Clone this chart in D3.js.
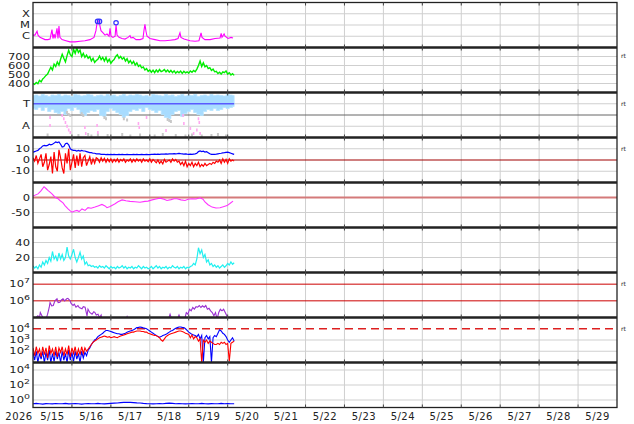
<!DOCTYPE html>
<html><head><meta charset="utf-8">
<script src="https://cdn.jsdelivr.net/npm/d3@7"></script>
<style>
body{margin:0;background:#fff}
svg{display:block}
text{font-family:"DejaVu Sans",sans-serif;fill:#222}
</style>
</head><body>
<svg id="chart" width="634" height="424"></svg>
<script>
// ---------------- DATA ----------------
const yearLabel = "2026";
const dayLabels = ["5/15","5/16","5/17","5/18","5/19","5/20","5/21","5/22","5/23","5/24","5/25","5/26","5/27","5/28","5/29"];

// X-ray flux (log10 W/m2), irregular times in hours after 5/15 00:00
const xrayHours = [0,1.2,2.5,3.1,4.3,7.4,9.2,10.5,11.7,12.3,13,13.6,14.8,15.4,16,16.6,17.9,20.3,22.8,25.9,29,32,35.1,37.6,38.8,39.5,40.1,40.7,41.3,41.9,43.2,44.4,45.6,46.9,47.5,48.1,49.3,50.6,51.2,51.8,53,54.9,56.7,58.6,59.8,60.4,61.7,63.5,66,67.8,68.4,69,69.7,70.3,72.1,75.2,78.3,81.4,84.5,87.5,89.4,90.6,91.2,93.1,96.8,99.9,102.3,103.6,104.2,106,109.1,112.2,115.3,116,116.5,117.8,118.4,120.2,122.1,123.3];
const xrayLog = [-5.9,-5.9,-5.55,-5.9,-6.1,-6.3,-6.3,-6.25,-5.4,-6.2,-5.8,-6.2,-5.3,-6.2,-5.1,-6.1,-6.3,-6.4,-6.5,-6.5,-6.45,-6.4,-6.3,-6.1,-5.5,-4.8,-4.65,-4.7,-5.1,-5.5,-5.7,-5.9,-5.8,-6.0,-5.3,-6.0,-6.1,-6.0,-4.95,-5.9,-6.1,-6.2,-6.25,-6.1,-5.95,-6.15,-6.1,-6.3,-6.3,-6.2,-5.5,-4.95,-5.6,-6.0,-6.2,-6.3,-6.4,-6.4,-6.35,-6.3,-6.2,-5.7,-6.1,-6.25,-6.4,-6.45,-6.4,-5.7,-6.1,-6.3,-6.3,-6.2,-6.15,-5.75,-6.1,-5.8,-6.0,-6.2,-6.1,-6.15];
const xrayTickLabels = ["X","M","C"];
const xrayTickLogs = [-4,-5,-6];
const flareHours = [39.8,41.0,51.2];
const flareLogs = [-4.68,-4.68,-4.8];

// Solar wind speed (km/s), hourly
const speed = [400,390,412,398,435,418,450,468,490,505,
 545,580,550,615,590,640,605,670,725,680,
 640,710,770,720,700,780,735,795,745,770,
 700,735,690,715,680,700,650,680,635,655,
 670,705,665,690,650,690,640,670,625,650,
 665,700,720,680,700,670,690,650,675,630,
 655,620,645,605,630,590,605,575,585,550,
 565,535,550,525,548,520,550,528,555,532,
 540,555,530,550,525,545,520,540,515,535,
 520,538,512,535,518,530,515,540,525,545,
 530,560,600,650,590,630,585,600,565,575,
 545,560,530,535,510,525,505,530,520,540,
 505,520,495,510,490];
const speedTicks = [400,500,600,700];

// IMF sector angle (deg), 2-hourly band limits; T = 270, A = 90
const phiTop = [336,340,332,344,336,328,340,336,344,332,
 340,336,328,344,340,332,336,344,340,328,
 336,340,332,344,336,340,328,336,344,332,
 340,336,344,340,332,336,328,344,340,336,
 332,344,336,340,328,336,344,332,340,336,
 344,328,336,340,332,344,336,340,336,332,
 344,340,336];
const phiBottom = [232,224,240,216,240,208,224,200,192,208,
 184,232,216,240,224,192,176,200,216,208,
 224,176,168,208,232,216,200,184,160,176,
 208,224,216,232,208,240,224,216,200,216,
 184,160,152,184,208,216,168,192,208,224,
 200,184,176,208,224,216,232,216,224,240,
 232,240,248];
const awayHours = [10.5,10.5,18,19,20,21,22,23,32,32.5,39.5,40,65,65.5,70,82,92.5,93,97,99,101,103,102,102.5];
const awayPhi  = [160,96,176,150,120,90,60,40,80,32,96,40,112,80,160,56,176,112,72,32,60,32,150,120];
const grayHours = [21,22,23,30,31,44,45,56,58,83,84,85,9,28,34,36,40,46,55,60,66,75,80,88,94,98,104,110,114,119];
const grayPhi   = [200,184,176,190,176,160,150,150,140,144,136,128,20,16,24,12,20,16,24,12,20,12,24,16,12,20,12,16,24,12];

// IMF Bt and Bz (nT), hourly
const bt = [7,7.5,8,8.5,10,11,12.5,13,12.5,13,
 14,13.5,14,15,16,15.5,16,14,11.5,12,
 14.5,15,13.5,10,9,8.5,8.5,8,8.5,8,
 8.5,8,8,7.5,7,6.5,6.5,6,6,5.5,
 5.5,5.5,5,5,5,4.8,5,4.8,5,4.8,
 5,4.8,4.8,5,4.8,5,4.8,4.8,5,4.8,
 4.8,4.8,5,4.8,5,4.8,4.8,5,4.8,4.8,
 5,4.8,4.8,5,5,5.2,5,5.2,5,5.2,
 5.3,5.2,5.5,5.3,5.5,5.4,5.5,5.6,5.5,5.6,
 5.8,5.6,5.5,5.3,5.5,5.2,5,5.2,5,5.3,
 5.5,6,7.5,8,7.5,7.8,7,7.5,6.5,5.5,
 5,5,5,5.2,5.5,5.8,6,6.3,6.5,6.8,
 7,6.5,6,5.5,5];
const bz = [2,-1,4,-3,1,5,-6,-2,6,-9,
 -4,3,-12,7,-6,-10,9,2,-7,-12,
 6,-3,10,-9,-2,5,-7,4,-5,6,
 -6,2,4,-5,-1,3,-4,1,-3,2,
 1,-2,2,-1,1.5,-2,1,-1.5,1,-2,
 0.5,-1.5,1,-2,0.5,-1,1,-2,0,-1,
 1,-2,0.5,-1.5,1,-1,0.5,-2,1,-1,
 0,-1.5,1,-2,0.5,-1,-2.5,0,-3,-1,
 -3.5,0.5,-2,-1,0,-2,1,-1,0.5,-2,
 -1,-4,-2,-5,-1,-6,-3,-5,-2,-6,
 -3,-5,-2,-6,-4,-5.5,-3,-5,-4,-3,
 -4,-2,-3,-1,-2,0,-3,1,-2,0.5,
 -3,1,-1,0,-1];
const bTicks = [10,0,-10];

// Dst (nT)
const dstHours = [0,3.1,4.9,6.8,8,9.2,10.5,11.7,13.6,15.4,16.6,18.5,19.7,21.6,22.8,24,25.3,27.1,28.4,30.2,32.1,33.9,35.8,38.2,40.1,42.5,44.4,45.6,47.5,50.6,52.4,54.9,57.3,59.8,62.9,66,69,70.9,73.4,75.8,78.3,80.8,82.6,85.1,86.9,88.8,91.2,93.7,95.6,98,100.5,103,104.8,106,107.9,110.4,112.8,115.3,117.8,119.6,121.4,123.3];
const dst = [5,12,22,36,30,24,18,12,1,-4,-10,-18,-27,-38,-44,-49,-46,-43,-47,-38,-43,-34,-36,-32,-28,-23,-28,-34,-30,-21,-14,-8,-11,-13,-14,-16,-13,-12,-8,-5,-2,-6,-10,-7,-4,-4.4,-8,-10,-6,-4,-5,-1,-6,-15,-24,-32,-35,-34,-30,-27,-20,-12];
const dstTicks = [0,-50];

// Solar wind density (p/cc), hourly
const density = [9,6,8,5,10,7,14,10,16,12,
 20,15,28,18,22,15,26,18,24,16,
 20,34,22,18,24,31,20,14,20,27,
 18,22,11,14,9,10,8,9,7,8,
 6,9,7,8,6,9,7,5,8,6,
 7,5,8,6,7,9,6,8,5,7,
 6,8,5,7,6,9,7,5,8,6,
 7,5,6,8,5,7,9,6,8,5,
 7,6,8,5,7,6,9,7,6,8,
 5,7,6,8,5,7,6,8,9,12,
 10,18,33,25,30,20,24,14,17,10,
 12,8,10,7,9,6,8,10,7,9,
 12,10,14,11,13];
const densityTicks = [40,20];

// Electron fluence (log10)
const elecHours = [0,2,3,4,4.5,5.5,6.5,8,9,10,10.5,11.5,12.5,13.5,14.8,15.5,16.6,17.5,18.5,19.5,20.8,21.5,22.8,23.5,24.7,25.5,26.5,27.7,28.5,30.2,31,32.1,33.3,33.9,35,36.4,37.5,38.2,39,40.1,41,42,42.5,
 null,57.5,58,58.5,null,83.5,84.5,85.5,null,89,90,91,null,93.5,94.5,95.5,96.5,97.5,98.5,99.5,100.5,101.5,102.5,103.5,104.5,105.5,106.5,107.5,108.5,109.5,110.5,111.5,112.5,113.5,114.5,115.5,116.5,117.5,118.5,119.5,120.5];
const elecLog = [4.9,5.0,5.1,5.0,5.3,5.1,4.9,4.9,5.2,5.6,5.9,5.7,5.72,6.0,6.12,5.9,5.92,6.05,6.12,6.0,6.12,6.15,6.02,5.85,5.72,5.8,5.62,5.72,5.6,5.52,5.65,5.62,5.1,5.5,5.3,5.2,5.35,5.3,5.15,5.2,5.0,5.15,4.8,
 null,4.9,5.05,4.9,null,4.9,5.2,4.9,null,4.9,5.15,4.9,null,4.9,5.3,5.2,5.5,5.4,5.6,5.5,5.65,5.62,5.72,5.6,5.7,5.62,5.72,5.5,5.55,5.4,5.3,5.1,5.3,4.9,5.3,5.5,5.4,5.5,5.3,5.1,4.9];
const elecTicks = [7,6];

// Particle flux (log10), hourly: blue and red channels
const fluxBlue = [1.9,1.2,2.0,1.0,1.8,1.3,2.0,1.0,1.9,1.2,
 2.1,1.0,1.8,1.1,2.0,1.3,1.9,1.0,2.0,1.2,
 1.8,1.0,2.1,1.2,1.9,1.1,2.0,1.3,1.8,1.0,
 2.0,1.4,1.9,1.6,2.1,2.3,2.6,2.8,3.0,3.1,
 3.3,3.4,3.5,3.6,3.75,3.85,3.85,3.8,3.75,3.7,
 3.65,3.6,3.55,3.55,3.5,3.5,3.55,3.6,3.7,3.75,
 3.8,3.85,3.9,4.0,4.1,4.12,4.15,4.12,4.08,4.05,
 4.0,3.9,3.8,3.7,3.6,3.5,3.4,3.3,3.25,3.3,
 3.4,3.45,3.5,3.6,3.7,3.8,3.85,3.95,4.05,4.1,
 4.15,4.15,4.12,4.1,4.0,3.85,3.7,3.6,3.5,3.45,
 3.4,3.3,3.5,3.1,3.4,1.0,3.2,3.4,3.1,3.3,
 1.0,3.2,3.4,3.3,3.6,3.9,3.8,3.6,3.5,3.3,
 3.0,2.8,3.0,3.2,2.9];
const fluxRed = [2.3,1.6,2.4,1.8,2.2,1.5,2.4,1.7,2.3,1.4,
 2.5,1.8,2.2,1.6,2.4,1.5,2.3,1.9,2.4,1.6,
 2.2,1.7,2.5,1.5,2.3,1.8,2.4,1.6,2.2,1.7,
 2.4,1.8,2.3,2.0,2.2,2.4,2.6,2.8,2.9,3.0,
 3.1,3.2,3.25,3.3,3.35,3.3,3.25,3.3,3.2,3.25,
 3.3,3.25,3.2,3.3,3.35,3.4,3.45,3.5,3.55,3.6,
 3.65,3.7,3.7,3.75,3.8,3.8,3.8,3.75,3.75,3.7,
 3.7,3.6,3.55,3.5,3.45,3.4,3.4,3.3,3.2,3.0,
 2.9,3.1,3.3,3.4,3.5,3.55,3.6,3.65,3.7,3.75,
 3.8,3.8,3.75,3.7,3.6,3.55,3.5,3.2,3.45,3.1,
 3.3,3.2,2.9,3.1,1.0,3.0,2.8,3.0,2.7,2.9,
 2.8,2.7,2.6,2.6,2.7,2.6,2.8,2.7,2.8,2.6,
 2.7,1.1,2.7,2.8,2.9];
const fluxTicks = [4,3,2];

// Low-level flux (log10), 2-hourly
const lowFlux = [-0.5,-0.45,-0.5,-0.55,-0.48,-0.5,-0.52,-0.47,-0.5,-0.5,
 -0.45,-0.52,-0.5,-0.48,-0.5,-0.55,-0.5,-0.47,-0.5,-0.5,
 -0.45,-0.5,-0.52,-0.48,-0.45,-0.42,-0.4,-0.35,-0.32,-0.3,
 -0.32,-0.35,-0.38,-0.4,-0.45,-0.48,-0.5,-0.52,-0.5,-0.47,
 -0.5,-0.45,-0.42,-0.45,-0.5,-0.48,-0.5,-0.52,-0.5,-0.47,
 -0.5,-0.5,-0.45,-0.5,-0.52,-0.48,-0.5,-0.5,-0.45,-0.5,
 -0.48,-0.5,-0.5];
const lowTicks = [4,2,0];

// ---------------- LAYOUT ----------------
const L = 33, R = 617, TOP = 2.5, PH = 45, NP = 9;
const svg = d3.select("#chart");
const t0 = Date.UTC(2026,4,15);
const x = d3.scaleUtc().domain([new Date(t0), new Date(Date.UTC(2026,4,30))]).range([L, R]);
const hx = h => x(new Date(t0 + h*3600e3));
const pTop = i => TOP + i*PH;
const GRID = "#cfcfcf";

const defs = svg.append("defs");
for (let i=0;i<NP;i++){
  defs.append("clipPath").attr("id","clip"+i).append("rect")
    .attr("x",L).attr("y",pTop(i)).attr("width",R-L).attr("height",PH);
}

const ys = [
  d3.scaleLinear().domain([-7,-3]).range([pTop(0)+PH, pTop(0)]),
  d3.scaleLinear().domain([300,800]).range([pTop(1)+PH, pTop(1)]),
  d3.scaleLinear().domain([0,360]).range([pTop(2)+PH, pTop(2)]),
  d3.scaleLinear().domain([-20,20]).range([pTop(3)+PH, pTop(3)]),
  d3.scaleLinear().domain([-100,50]).range([pTop(4)+PH, pTop(4)]),
  d3.scaleLinear().domain([0,60]).range([pTop(5)+PH, pTop(5)]),
  d3.scaleLog().domain([1e5, Math.pow(10,7.7)]).range([pTop(6)+PH, pTop(6)]),
  d3.scaleLog().domain([10,1e5]).range([pTop(7)+PH, pTop(7)]),
  d3.scaleLog().domain([0.1,1e5]).range([pTop(8)+PH, pTop(8)])
];
const p10 = v => Math.pow(10, v);

const gridG = svg.append("g");
const dataG = svg.append("g");
const frameG = svg.append("g");
const textG = svg.append("g");

const dayTicks = x.ticks(d3.utcDay.every(1)).filter(d => +d > t0 && +d < Date.UTC(2026,4,30));
for (let i=0;i<NP;i++){
  gridG.selectAll(null).data(dayTicks).enter().append("line")
    .attr("x1",d=>x(d)).attr("x2",d=>x(d))
    .attr("y1",pTop(i)).attr("y2",pTop(i)+PH)
    .attr("stroke",GRID).attr("stroke-width",1);
}
function hgrid(i, vals, color, width, dash){
  gridG.selectAll(null).data(vals).enter().append("line")
    .attr("x1",L).attr("x2",R)
    .attr("y1",d=>ys[i](d)).attr("y2",d=>ys[i](d))
    .attr("stroke",color||GRID).attr("stroke-width",width||1)
    .attr("stroke-dasharray",dash||null);
}
hgrid(0, xrayTickLogs);
hgrid(1, speedTicks);
hgrid(2, [270,90]);
hgrid(3, [10,-10]);
hgrid(4, [-50]);
hgrid(5, densityTicks);
hgrid(7, [1e3,1e2]);
hgrid(8, lowTicks.map(p10));

const SQ = "scale(1.05,0.8)";
function ylabel(i, vals, texts){
  vals.forEach((v,k)=>{
    textG.append("g").attr("transform",`translate(30,${ys[i](v)}) ${SQ}`)
      .append("text").attr("x",0).attr("y",0).attr("dy","0.36em")
      .attr("text-anchor","end").attr("font-size","11px").text(texts[k]);
  });
}
function ypow(i, exps){
  exps.forEach(e=>{
    const t = textG.append("g").attr("transform",`translate(30,${ys[i](p10(e))}) ${SQ}`)
      .append("text").attr("x",0).attr("y",0).attr("dy","0.36em")
      .attr("text-anchor","end").attr("font-size","11px");
    t.append("tspan").text("10");
    t.append("tspan").attr("dy","-5").attr("font-size","9px").text(String(e));
  });
}

// ---- panel 1: x-ray
const xrayData = xrayHours.map((h,k)=>({h, v:xrayLog[k]}));
dataG.append("path").datum(xrayData).attr("clip-path","url(#clip0)")
  .attr("fill","none").attr("stroke","#ff00ff").attr("stroke-width",1.1)
  .attr("d", d3.line().x(d=>hx(d.h)).y(d=>ys[0](d.v)));
dataG.selectAll(null).data(flareHours).enter().append("circle")
  .attr("cx",d=>hx(d)).attr("cy",(d,k)=>ys[0](flareLogs[k])).attr("r",2.2)
  .attr("fill","none").attr("stroke","#3333ff").attr("stroke-width",1.2);
ylabel(0, xrayTickLogs, xrayTickLabels);

// ---- panel 2: speed
dataG.append("path").datum(speed).attr("clip-path","url(#clip1)")
  .attr("fill","none").attr("stroke","#00ee00").attr("stroke-width",1.4)
  .attr("d", d3.line().x((d,k)=>hx(k)).y(d=>ys[1](d)));
ylabel(1, speedTicks, speedTicks.map(String));

// ---- panel 3: sector
gridG.append("line").attr("x1",L).attr("x2",R).attr("y1",ys[2](180)).attr("y2",ys[2](180))
  .attr("stroke","#666").attr("stroke-width",1);
dataG.append("path").datum(phiTop).attr("clip-path","url(#clip2)")
  .attr("fill","#a8dcff").attr("stroke","#b8e4ff").attr("stroke-width",0.8)
  .attr("d", d3.area().curve(d3.curveStep).x((d,k)=>hx(k*2)).y0((d,k)=>ys[2](phiBottom[k])).y1(d=>ys[2](d)));
dataG.selectAll(null).data(grayHours).enter().append("rect")
  .attr("x",d=>hx(d)-1).attr("y",(d,k)=>ys[2](grayPhi[k])-1.5).attr("width",2).attr("height",3)
  .attr("fill","#c8c8c8");
dataG.selectAll(null).data(awayHours).enter().append("rect")
  .attr("x",d=>hx(d)-0.8).attr("y",(d,k)=>ys[2](awayPhi[k])-1.5).attr("width",1.6).attr("height",3)
  .attr("fill","#ffa8f0");
dataG.append("line").attr("x1",hx(0)).attr("x2",hx(124)).attr("y1",ys[2](270)).attr("y2",ys[2](270))
  .attr("stroke","#5a5aff").attr("stroke-width",1.5);
ylabel(2, [270,90], ["T","A"]);

// ---- panel 4: Bt/Bz
gridG.append("line").attr("x1",L).attr("x2",R).attr("y1",ys[3](0)).attr("y2",ys[3](0))
  .attr("stroke","#a00000").attr("stroke-width",1);
dataG.append("path").datum(bt).attr("clip-path","url(#clip3)")
  .attr("fill","none").attr("stroke","#0000ff").attr("stroke-width",1.2)
  .attr("d", d3.line().x((d,k)=>hx(k)).y(d=>ys[3](d)));
dataG.append("path").datum(bz).attr("clip-path","url(#clip3)")
  .attr("fill","none").attr("stroke","#ff0000").attr("stroke-width",1.2)
  .attr("d", d3.line().x((d,k)=>hx(k)).y(d=>ys[3](d)));
ylabel(3, bTicks, bTicks.map(String));

// ---- panel 5: Dst
gridG.append("line").attr("x1",L).attr("x2",R).attr("y1",ys[4](0)).attr("y2",ys[4](0))
  .attr("stroke","#d47a7a").attr("stroke-width",2);
dataG.append("path").datum(dst).attr("clip-path","url(#clip4)")
  .attr("fill","none").attr("stroke","#ff33ff").attr("stroke-width",1.1)
  .attr("d", d3.line().x((d,k)=>hx(dstHours[k])).y(d=>ys[4](d)));
ylabel(4, dstTicks, dstTicks.map(String));

// ---- panel 6: density
dataG.append("path").datum(density).attr("clip-path","url(#clip5)")
  .attr("fill","none").attr("stroke","#22f0f0").attr("stroke-width",1.2)
  .attr("d", d3.line().x((d,k)=>hx(k)).y(d=>ys[5](d)));
ylabel(5, densityTicks, densityTicks.map(String));

// ---- panel 7: electrons
hgrid(6, elecTicks.map(p10), "#cc0000", 1);
dataG.append("path").datum(elecLog).attr("clip-path","url(#clip6)")
  .attr("fill","none").attr("stroke","#9a2fd0").attr("stroke-width",1.1)
  .attr("d", d3.line().defined(d=>d!==null).x((d,k)=>hx(elecHours[k])).y(d=>ys[6](p10(d))));
ypow(6, elecTicks);

// ---- panel 8: particle flux
hgrid(7, [1e4], "#dd2020", 1.3, "8,5");
dataG.append("path").datum(fluxBlue).attr("clip-path","url(#clip7)")
  .attr("fill","none").attr("stroke","#0000ff").attr("stroke-width",1.1)
  .attr("d", d3.line().x((d,k)=>hx(k)).y(d=>ys[7](p10(d))));
dataG.append("path").datum(fluxRed).attr("clip-path","url(#clip7)")
  .attr("fill","none").attr("stroke","#ff0000").attr("stroke-width",1.1)
  .attr("d", d3.line().x((d,k)=>hx(k)).y(d=>ys[7](p10(d))));
ypow(7, fluxTicks);

// ---- panel 9
dataG.append("path").datum(lowFlux).attr("clip-path","url(#clip8)")
  .attr("fill","none").attr("stroke","#0000ff").attr("stroke-width",1.2)
  .attr("d", d3.line().x((d,k)=>hx(k*2)).y(d=>ys[8](p10(d))));
ypow(8, lowTicks);

// ---- frame & separators
frameG.append("rect").attr("x",L).attr("y",TOP).attr("width",R-L).attr("height",PH*NP)
  .attr("fill","none").attr("stroke","#222").attr("stroke-width",1.3);
for (let i=1;i<NP;i++){
  frameG.append("line").attr("x1",L).attr("x2",R).attr("y1",pTop(i)).attr("y2",pTop(i))
    .attr("stroke","#222").attr("stroke-width",2.5);
}
for (let i=0;i<=NP;i++){
  frameG.selectAll(null).data(dayTicks).enter().append("line")
    .attr("x1",d=>x(d)).attr("x2",d=>x(d))
    .attr("y1",pTop(i)-(i>0?3:0)).attr("y2",pTop(i)+(i<NP?3:0))
    .attr("stroke","#444").attr("stroke-width",1);
}

// x labels
textG.selectAll(null).data(dayLabels).enter().append("text")
  .attr("x",(d,k)=>hx(k*24+12)).attr("y",420).attr("text-anchor","middle")
  .attr("font-size","10px").attr("letter-spacing","0.5px").text(d=>d);
textG.append("text").attr("x",19).attr("y",420).attr("text-anchor","middle")
  .attr("font-size","10px").attr("letter-spacing","0.5px").text(yearLabel);

// right "rt" marks
const rtY = [ys[1](700), ys[2](270), ys[3](10), ys[6](1e7), ys[7](1e4)];
textG.selectAll(null).data(rtY).enter().append("text")
  .attr("x",621).attr("y",d=>d).attr("dy","0.3em").attr("font-size","6px").attr("fill","#444").text("rt");
</script>
</body></html>
